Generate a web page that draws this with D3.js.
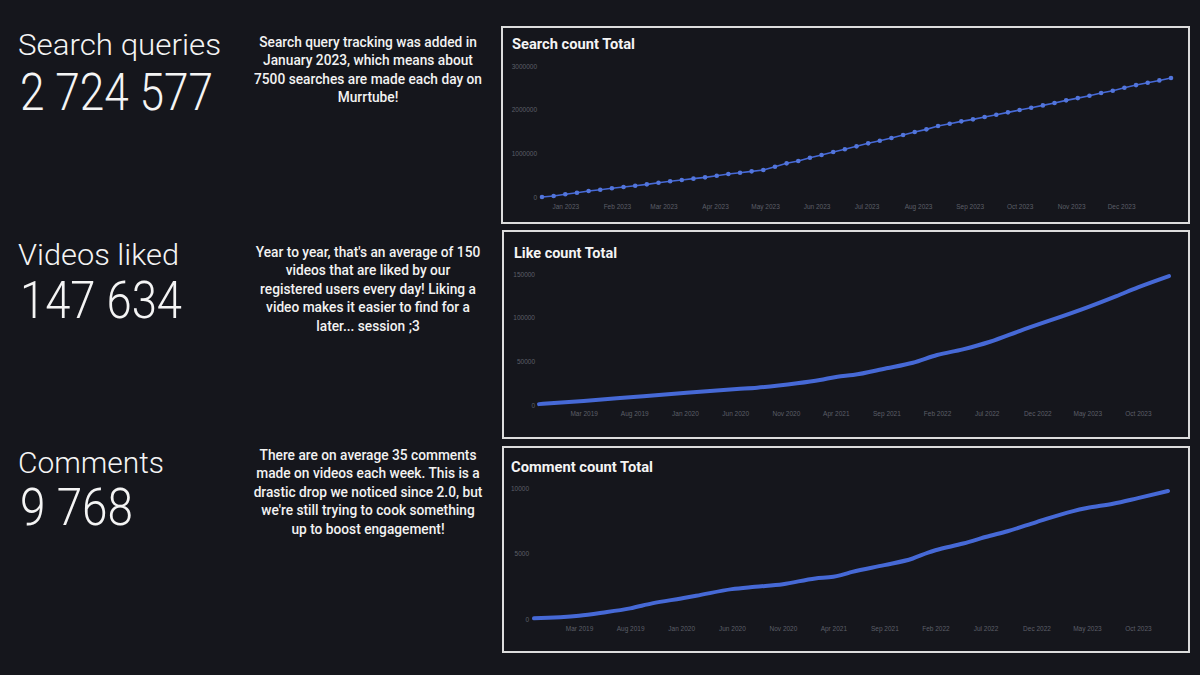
<!DOCTYPE html>
<html>
<head>
<meta charset="utf-8">
<script src="https://cdn.jsdelivr.net/npm/d3@7"></script>
<style>
  html, body { margin: 0; padding: 0; background: #15161c; }
  svg { display: block; }
</style>
</head>
<body>
<svg id="chart" width="1200" height="675"></svg>
<script>
'use strict';

// weekly search totals since tracking started
var searchDates = [
  '2022-12-18', '2022-12-25', '2023-01-01', '2023-01-08', '2023-01-15', '2023-01-22', '2023-01-29',
  '2023-02-05', '2023-02-12', '2023-02-19', '2023-02-26', '2023-03-05', '2023-03-12', '2023-03-19',
  '2023-03-26', '2023-04-02', '2023-04-09', '2023-04-16', '2023-04-23', '2023-04-30', '2023-05-07',
  '2023-05-14', '2023-05-21', '2023-05-28', '2023-06-04', '2023-06-11', '2023-06-18', '2023-06-25',
  '2023-07-02', '2023-07-09', '2023-07-16', '2023-07-23', '2023-07-30', '2023-08-06', '2023-08-13',
  '2023-08-20', '2023-08-27', '2023-09-03', '2023-09-10', '2023-09-17', '2023-09-24', '2023-10-01',
  '2023-10-08', '2023-10-15', '2023-10-22', '2023-10-29', '2023-11-05', '2023-11-12', '2023-11-19',
  '2023-11-26', '2023-12-03', '2023-12-10', '2023-12-17', '2023-12-24', '2023-12-31'
];
var searchValues = [
  0, 23000, 62000, 98000, 137000, 167000, 199000, 229000, 259000, 290000, 328000,
  359000, 389000, 420000, 450000, 488000, 526000, 557000, 587000, 618000, 694000,
  771000, 824000, 900000, 961000, 1030000, 1092000, 1160000, 1229000, 1288000, 1350000,
  1419000, 1487000, 1549000, 1625000, 1677000, 1732000, 1778000, 1831000, 1883000, 1938000,
  1991000, 2043000, 2098000, 2151000, 2213000, 2265000, 2318000, 2380000, 2432000, 2501000,
  2563000, 2616000, 2670000, 2724577
];
var searchTicks = ['2023-01-01', '2023-02-01', '2023-03-01', '2023-04-01', '2023-05-01', '2023-06-01',
  '2023-07-01', '2023-08-01', '2023-09-01', '2023-10-01', '2023-11-01', '2023-12-01'];
var searchYTicks = [0, 1000000, 2000000, 3000000];

// likes
var likeDates = ['2018-10-17', '2019-03-01', '2019-08-08', '2020-01-06', '2020-06-06', '2020-08-06',
  '2020-12-05', '2021-02-12', '2021-04-06', '2021-05-23', '2021-09-01', '2021-11-20', '2022-02-01',
  '2022-04-20', '2022-07-11', '2022-10-10', '2023-05-01', '2023-07-28', '2023-10-01', '2024-01-03'];
var likeValues = [1000, 4500, 9500, 14100, 18300, 19800, 24800, 28600, 32400, 34300, 42000, 48400,
  57200, 63700, 72400, 85000, 111800, 124700, 134700, 147634];
var likeTicks = ['2019-03-01', '2019-08-01', '2020-01-01', '2020-06-01', '2020-11-01', '2021-04-01',
  '2021-09-01', '2022-02-01', '2022-07-01', '2022-12-01', '2023-05-01', '2023-10-01'];
var likeYTicks = [0, 50000, 100000, 150000];

// comments
var commentDates = ['2018-10-17', '2019-03-01', '2019-05-09', '2019-08-01', '2019-10-06', '2020-01-01',
  '2020-02-15', '2020-06-01', '2020-08-10', '2020-11-01', '2021-02-06', '2021-04-01', '2021-04-24',
  '2021-05-28', '2021-09-01', '2021-11-25', '2022-01-10', '2022-02-01', '2022-04-25', '2022-06-05',
  '2022-07-01', '2022-09-05', '2022-12-01', '2023-03-18', '2023-05-01', '2023-07-18', '2023-10-01',
  '2023-12-30'];
var commentValues = [50, 250, 480, 810, 1190, 1570, 1770, 2280, 2460, 2660, 3100, 3220, 3350,
  3600, 4110, 4620, 5070, 5250, 5760, 6060, 6260, 6700, 7400, 8220, 8470, 8800, 9230, 9768];
var commentTicks = likeTicks;
var commentYTicks = [0, 5000, 10000];

var statLabels = ['Search queries', 'Videos liked', 'Comments'];
var statNumbers = ['2 724 577', '147 634', '9 768'];
var panelTitles = ['Search count Total', 'Like count Total', 'Comment count Total'];
var blurbs = [
  ['Search query tracking was added in', 'January 2023, which means about',
   '7500 searches are made each day on', 'Murrtube!'],
  ['Year to year, that\'s an average of 150', 'videos that are liked by our',
   'registered users every day! Liking a', 'video makes it easier to find for a', 'later... session ;3'],
  ['There are on average 35 comments', 'made on videos each week. This is a',
   'drastic drop we noticed since 2.0, but', 'we\'re still trying to cook something', 'up to boost engagement!']
];

var parse = d3.timeParse('%Y-%m-%d');
var fmtMonth = d3.timeFormat('%b %Y');
var blue = '#4669d6';
var font = 'Roboto, "Open Sans", sans-serif';

var svg = d3.select('#chart');
svg.append('rect').attr('width', 1200).attr('height', 675).attr('fill', '#15161c');

// layout of the three rows
var rows = [
  { label: { y: 55, w: 203 }, number: { y: 110, w: 193 }, blurb: { y: 47 },
    box: [502, 27, 687, 196], title: { x: 512, y: 49, w: 123 },
    plot: { x0: 542, x1: 1171, y0: 197, y1: 66, yLab: 537, xLab: 204 },
    dates: searchDates, values: searchValues, ticks: searchTicks, yTicks: searchYTicks, dots: true },
  { label: { y: 265, w: 161 }, number: { y: 318, w: 162 }, blurb: { y: 257 },
    box: [503, 231, 686, 207], title: { x: 514, y: 258, w: 103 },
    plot: { x0: 539, x1: 1169, y0: 405, y1: 274, yLab: 535, xLab: 411 },
    dates: likeDates, values: likeValues, ticks: likeTicks, yTicks: likeYTicks, dots: false },
  { label: { y: 473, w: 146 }, number: { y: 525, w: 113 }, blurb: { y: 460 },
    box: [503, 447, 686, 205], title: { x: 511, y: 472, w: 142 },
    plot: { x0: 534, x1: 1168, y0: 619, y1: 488, yLab: 529, xLab: 626 },
    dates: commentDates, values: commentValues, ticks: commentTicks, yTicks: commentYTicks, dots: false }
];

rows.forEach(function (row, i) {
  // big stat on the left
  svg.append('text')
    .attr('x', 18).attr('y', row.label.y)
    .attr('textLength', row.label.w).attr('lengthAdjust', 'spacingAndGlyphs')
    .style('font-family', font).style('font-weight', 300).style('font-size', '29px')
    .attr('fill', '#f4f4f4')
    .text(statLabels[i]);

  svg.append('text')
    .attr('x', 20).attr('y', row.number.y)
    .attr('textLength', row.number.w).attr('lengthAdjust', 'spacingAndGlyphs')
    .style('font-family', font).style('font-weight', 300).style('font-size', '51px')
    .attr('fill', '#f4f4f4')
    .text(statNumbers[i]);

  // blurb text
  var bl = svg.append('g').attr('transform', 'translate(368,0) scale(0.98,1)');
  blurbs[i].forEach(function (line, j) {
    bl.append('text')
      .attr('x', 0).attr('y', row.blurb.y + j * 18.4)
      .attr('text-anchor', 'middle')
      .style('font-family', font).style('font-weight', 500).style('font-size', '14px')
      .attr('fill', '#f2f2f2')
      .text(line);
  });

  // panel frame
  svg.append('rect')
    .attr('x', row.box[0]).attr('y', row.box[1])
    .attr('width', row.box[2]).attr('height', row.box[3])
    .attr('fill', '#15161c').attr('stroke', '#dcdcdc').attr('stroke-width', 2);

  svg.append('text')
    .attr('x', row.title.x).attr('y', row.title.y)
    .attr('textLength', row.title.w).attr('lengthAdjust', 'spacingAndGlyphs')
    .style('font-family', font).style('font-weight', 700).style('font-size', '15.5px')
    .attr('fill', '#f4f4f4')
    .text(panelTitles[i]);

  var data = row.dates.map(function (d, k) { return { date: parse(d), value: row.values[k] }; });

  var x = d3.scaleTime()
    .domain(d3.extent(data, function (d) { return d.date; }))
    .range([row.plot.x0, row.plot.x1]);
  var y = d3.scaleLinear()
    .domain([0, d3.max(row.yTicks)])
    .range([row.plot.y0, row.plot.y1]);

  var yAxis = svg.append('g')
    .attr('transform', 'translate(' + row.plot.yLab + ',0)')
    .call(d3.axisLeft(y).tickValues(row.yTicks).tickFormat(d3.format('d')).tickSize(0).tickPadding(0));
  var xAxis = svg.append('g')
    .attr('transform', 'translate(0,' + row.plot.xLab + ')')
    .call(d3.axisBottom(x).tickValues(row.ticks.map(parse)).tickFormat(fmtMonth).tickSize(0).tickPadding(0));

  [yAxis, xAxis].forEach(function (ax) {
    ax.select('.domain').remove();
    ax.selectAll('text')
      .style('font-family', '"Liberation Sans", Arial, sans-serif')
      .style('font-size', '6.5px')
      .attr('fill', '#5c5f68');
  });

  var line = d3.line()
    .x(function (d) { return x(d.date); })
    .y(function (d) { return y(d.value); })
    .curve(row.dots ? d3.curveLinear : d3.curveMonotoneX);

  svg.append('path')
    .datum(data)
    .attr('d', line)
    .attr('fill', 'none')
    .attr('stroke', blue)
    .attr('stroke-width', row.dots ? 1.6 : 4)
    .attr('stroke-linecap', 'round')
    .attr('stroke-linejoin', 'round');

  if (row.dots) {
    svg.append('g').selectAll('circle')
      .data(data)
      .join('circle')
      .attr('cx', function (d) { return x(d.date); })
      .attr('cy', function (d) { return y(d.value); })
      .attr('r', 2.3)
      .attr('fill', '#5275dc');
  }
});
</script>
</body>
</html>
